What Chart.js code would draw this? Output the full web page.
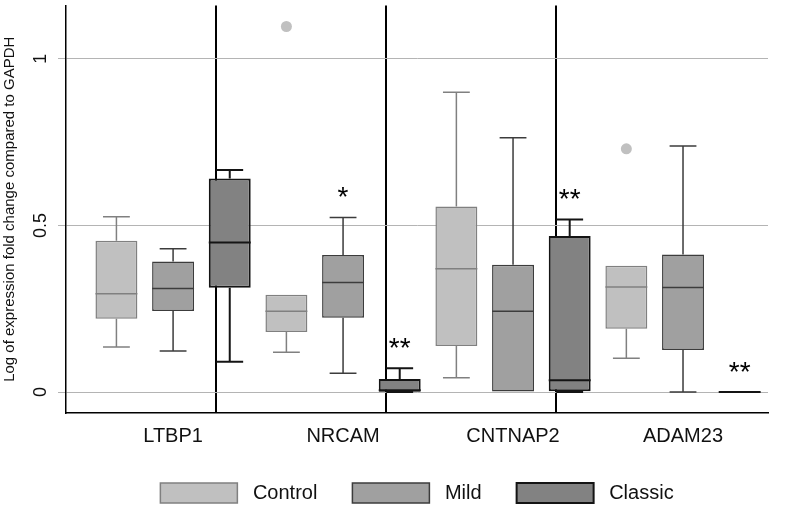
<!DOCTYPE html>
<html lang="en">
<head>
    <meta charset="UTF-8">
    <title>Expression box plot</title>
    <script src="https://cdn.jsdelivr.net/npm/chart.js"></script>
    <style>
        body {
            margin: 0;
            background: #ffffff;
        }
        .wrap {
            width: 800px;
            height: 509px;
        }
    </style>
</head>
<body>
    <div class="wrap">
        <canvas id="boxChart"></canvas>
    </div>

    <script>
        const genes = ["LTBP1", "NRCAM", "CNTNAP2", "ADAM23"];
        const groups = ["Control", "Mild", "Classic"];
        const yTicks = [0, 0.5, 1];

        // five-number summaries, one entry per gene
        const controlLow = [0.135, 0.119, 0.043, 0.101];
        const controlQ1 = [0.220, 0.180, 0.138, 0.190];
        const controlMed = [0.295, 0.242, 0.370, 0.315];
        const controlQ3 = [0.454, 0.292, 0.557, 0.379];
        const controlHigh = [0.526, 0.292, 0.900, 0.379];
        const controlOutliers = [[], [1.097], [], [0.730]];
        const controlStars = ["", "", "", ""];

        const mildLow = [0.123, 0.056, 0, 0];
        const mildQ1 = [0.243, 0.223, 0, 0.126];
        const mildMed = [0.311, 0.329, 0.242, 0.314];
        const mildQ3 = [0.392, 0.411, 0.382, 0.413];
        const mildHigh = [0.430, 0.524, 0.763, 0.738];
        const mildOutliers = [[], [], [], []];
        const mildStars = ["", "*", "", ""];

        const classicLow = [0.091, 0, 0, 0];
        const classicQ1 = [0.313, 0.001, 0.002, 0];
        const classicMed = [0.449, 0.005, 0.035, 0];
        const classicQ3 = [0.641, 0.039, 0.468, 0];
        const classicHigh = [0.666, 0.071, 0.518, 0];
        const classicOutliers = [[], [], [], []];
        const classicStars = ["", "**", "**", "**"];

        const stats = [
            { low: controlLow, q1: controlQ1, med: controlMed, q3: controlQ3, high: controlHigh, out: controlOutliers, stars: controlStars },
            { low: mildLow, q1: mildQ1, med: mildMed, q3: mildQ3, high: mildHigh, out: mildOutliers, stars: mildStars },
            { low: classicLow, q1: classicQ1, med: classicMed, q3: classicQ3, high: classicHigh, out: classicOutliers, stars: classicStars }
        ];

        const fills = ["#c0c0c0", "#a0a0a0", "#828282"];
        const lines = ["#808080", "#3c3c3c", "#141414"];
        const widths = [1.5, 1.5, 2];

        // each gene takes one x unit, the three groups sit at -1/3, 0, +1/3
        const slot = j => (j - 1) / 3;

        const barSets = groups.map((g, j) => ({
            type: "bar",
            label: g,
            data: genes.map((_, i) => ({ x: i + slot(j), y: [stats[j].q1[i], stats[j].q3[i]] })),
            backgroundColor: fills[j],
            borderColor: lines[j],
            borderWidth: widths[j],
            borderSkipped: false,
            grouped: false,
            categoryPercentage: 1,
            barPercentage: 0.74
        }));

        const outlierSets = groups.map((g, j) => ({
            type: "scatter",
            label: g + " outliers",
            data: genes.flatMap((_, i) => stats[j].out[i].map(v => ({ x: i + slot(j), y: v }))),
            backgroundColor: fills[j],
            borderWidth: 0,
            pointRadius: 5.5
        }));

        // whiskers, caps, medians and significance stars
        const boxDetails = {
            id: "boxDetails",
            afterDatasetsDraw(chart) {
                const ctx = chart.ctx;
                const y = chart.scales.y;
                ctx.save();
                groups.forEach((g, j) => {
                    const s = stats[j];
                    chart.getDatasetMeta(j).data.forEach((bar, i) => {
                        const cx = bar.x;
                        const half = bar.width / 2;
                        const cap = bar.width * 0.32;
                        const pLow = y.getPixelForValue(s.low[i]);
                        const pQ1 = y.getPixelForValue(s.q1[i]);
                        const pQ3 = y.getPixelForValue(s.q3[i]);
                        const pHigh = y.getPixelForValue(s.high[i]);
                        const pMed = y.getPixelForValue(s.med[i]);

                        ctx.strokeStyle = lines[j];
                        ctx.lineWidth = widths[j];
                        ctx.beginPath();
                        if (s.high[i] > s.q3[i]) {
                            ctx.moveTo(cx, pQ3);
                            ctx.lineTo(cx, pHigh);
                            ctx.moveTo(cx - cap, pHigh);
                            ctx.lineTo(cx + cap, pHigh);
                        }
                        if (s.low[i] < s.q1[i]) {
                            ctx.moveTo(cx, pQ1);
                            ctx.lineTo(cx, pLow);
                            ctx.moveTo(cx - cap, pLow);
                            ctx.lineTo(cx + cap, pLow);
                        }
                        ctx.moveTo(cx - half, pMed);
                        ctx.lineTo(cx + half, pMed);
                        ctx.stroke();

                        if (s.stars[i]) {
                            ctx.fillStyle = "#000000";
                            ctx.font = "28px Arial, 'Liberation Sans', sans-serif";
                            ctx.textAlign = "center";
                            ctx.textBaseline = "alphabetic";
                            ctx.fillText(s.stars[i], cx, pHigh - 11);
                        }
                    });
                });
                ctx.restore();
            }
        };

        // keep the axes from reserving room for half-labels at their ends
        const noEdgePadding = scale => {
            scale.paddingTop = 0;
            scale.paddingBottom = 0;
            scale.paddingLeft = 0;
            scale.paddingRight = 0;
        };

        Chart.defaults.font.family = "Arial, 'Liberation Sans', sans-serif";
        Chart.defaults.color = "#111111";

        new Chart(document.getElementById("boxChart"), {
            type: "bar",
            data: { datasets: [...barSets, ...outlierSets] },
            options: {
                responsive: true,
                maintainAspectRatio: false,
                animation: false,
                layout: { padding: { top: 4, right: 32, left: 0, bottom: 0 } },
                scales: {
                    x: {
                        type: "linear",
                        offset: false,
                        min: -0.63,
                        max: 3.5,
                        afterBuildTicks: scale => {
                            const t = [];
                            genes.forEach((_, i) => {
                                t.push({ value: i });
                                if (i < genes.length - 1) t.push({ value: i + 0.5 });
                            });
                            scale.ticks = t;
                        },
                        afterFit: scale => {
                            scale.height = 35;
                            noEdgePadding(scale);
                        },
                        grid: {
                            drawTicks: false,
                            color: c => (c.tick && !Number.isInteger(c.tick.value)) ? "#000000" : "rgba(0,0,0,0)",
                            lineWidth: 2
                        },
                        border: { color: "#000000", width: 1.5 },
                        ticks: {
                            autoSkip: false,
                            maxRotation: 0,
                            padding: 11,
                            font: { size: 20 },
                            callback: v => Number.isInteger(v) ? genes[v] : ""
                        }
                    },
                    y: {
                        min: -0.063,
                        max: 1.16,
                        afterBuildTicks: scale => {
                            scale.ticks = yTicks.map(v => ({ value: v }));
                        },
                        afterFit: scale => {
                            scale.width = 66;
                            noEdgePadding(scale);
                        },
                        grid: {
                            color: "#b4b4b4",
                            lineWidth: 1,
                            tickLength: 8
                        },
                        border: { color: "#000000", width: 1.5 },
                        ticks: {
                            minRotation: 90,
                            maxRotation: 90,
                            crossAlign: "center",
                            padding: 4,
                            font: { size: 18 },
                            callback: v => String(v)
                        },
                        title: {
                            display: true,
                            text: "Log of expression fold change compared to GAPDH",
                            font: { size: 15 },
                            padding: { top: 1, bottom: 0 }
                        }
                    }
                },
                plugins: {
                    tooltip: { enabled: false },
                    legend: {
                        position: "bottom",
                        fullSize: false,
                        maxHeight: 61,
                        labels: {
                            boxWidth: 77,
                            boxHeight: 20,
                            padding: 35,
                            font: { size: 20 },
                            generateLabels: chart => Chart.defaults.plugins.legend.labels.generateLabels(chart)
                                .filter(item => item.datasetIndex < groups.length)
                                .map(item => ({ ...item, text: " " + item.text }))
                        }
                    }
                }
            },
            plugins: [boxDetails]
        });
    </script>
</body>
</html>
